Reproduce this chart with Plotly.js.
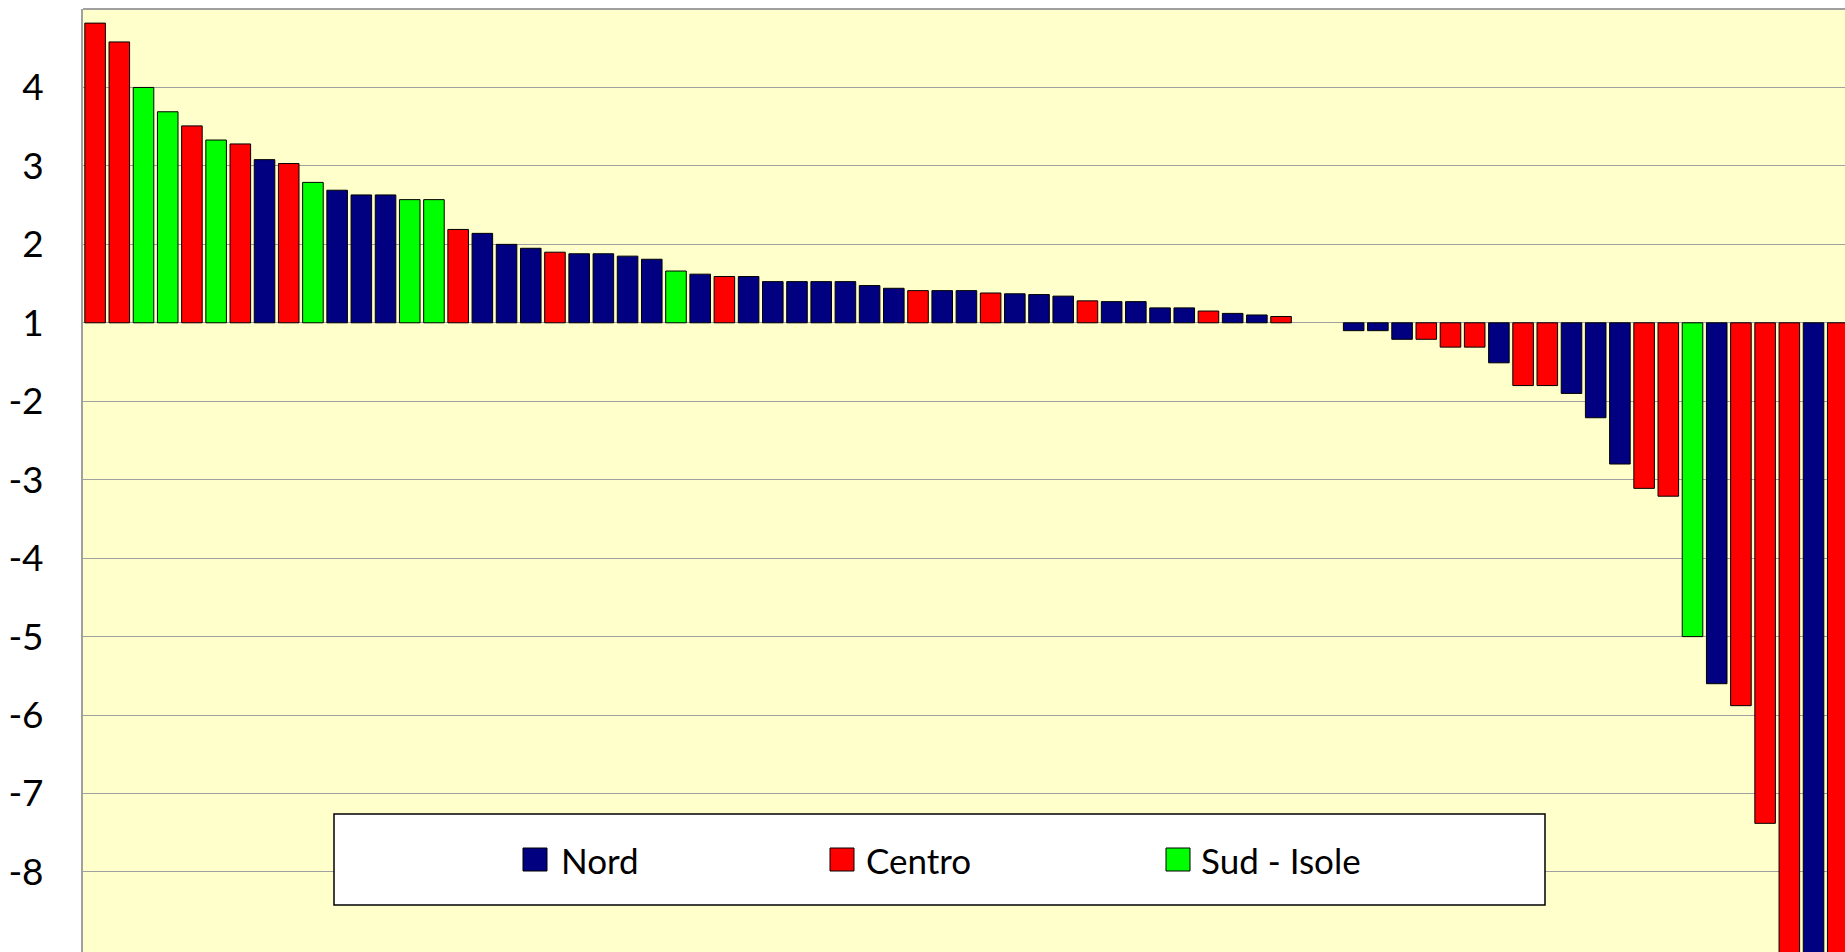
<!DOCTYPE html>
<html>
<head>
<meta charset="utf-8">
<script src="https://cdn.plot.ly/plotly-3.0.1.min.js"></script>
<style>
  html, body { margin: 0; padding: 0; background: #ffffff; overflow: hidden; }
  #chart { width: 1845px; height: 952px; }
</style>
</head>
<body>
<div id="chart"></div>
<script>
// ---- data (bar heights measured from the baseline, in axis steps) ----
const barRegions = [
  'C','C','S','S','C','S','C','N','C','S',
  'N','N','N','S','S','C','N','N','N','C',
  'N','N','N','N','S','N','C','N','N','N',
  'N','N','N','N','C','N','N','C','N','N',
  'N','C','N','N','N','N','C','N','N','C',
  null,null,'N','N','N','C','C','C','N','C',
  'C','N','N','N','C','C','S','N','C','C',
  'C','N','C'
];
const barValues = [
  3.82, 3.58, 3.00, 2.69, 2.51, 2.33, 2.28, 2.08, 2.03, 1.79,
  1.69, 1.63, 1.63, 1.57, 1.57, 1.19, 1.14, 1.00, 0.95, 0.90,
  0.88, 0.88, 0.85, 0.81, 0.66, 0.62, 0.59, 0.59, 0.525, 0.525,
  0.525, 0.525, 0.475, 0.44, 0.41, 0.41, 0.41, 0.38, 0.37, 0.36,
  0.34, 0.28, 0.27, 0.27, 0.19, 0.19, 0.15, 0.12, 0.10, 0.08,
  null, null, -0.10, -0.10, -0.21, -0.21, -0.31, -0.31, -0.51, -0.80,
  -0.80, -0.90, -1.21, -1.80, -2.11, -2.21, -4.00, -4.60, -4.88, -6.38,
  -8.6, -9.2, -10.0
];
const seriesKeys  = ['N', 'C', 'S'];
const seriesNames = ['Nord', 'Centro', 'Sud - Isole'];
const tickPositions = [3, 2, 1, 0, -1, -2, -3, -4, -5, -6, -7];
const tickLabels    = ['4', '3', '2', '1', '-2', '-3', '-4', '-5', '-6', '-7', '-8'];

// ---- styles ----
const seriesColors = { N: '#000080', C: '#FF0000', S: '#00FF00' };
const FONT = 'Lato, "Open Sans", sans-serif';
const W = 1845, H = 952, ML = 83, MT = 9;
const PW = W - ML, PH = H - MT;
const px2x = p => (p - ML) / PW;
const px2y = p => (H - p) / PH;

const traces = seriesKeys.map((k, si) => {
  const xs = [], ys = [];
  barRegions.forEach((r, i) => {
    if (r === k && barValues[i] !== null) { xs.push(i + 1); ys.push(barValues[i]); }
  });
  return {
    type: 'bar', name: seriesNames[si], x: xs, y: ys,
    marker: { color: seriesColors[k], line: { color: '#000000', width: 1 } },
    showlegend: false, hoverinfo: 'y+name'
  };
});

// custom legend (box + squares + labels)
const legendItems = [
  { key: 'N', sq: 523, tx: 559 },
  { key: 'C', sq: 830, tx: 864 },
  { key: 'S', sq: 1166, tx: 1199 }
];
const shapes = [
  { type: 'line', xref: 'paper', yref: 'paper', x0: 0, x1: 1.01, y0: 1, y1: 1,
    line: { color: '#A0A0A0', width: 2 } },
  { type: 'rect', xref: 'paper', yref: 'paper', layer: 'above',
    x0: px2x(334), x1: px2x(1545), y0: px2y(905), y1: px2y(814),
    fillcolor: '#FFFFFF', line: { color: '#000000', width: 1.5 } }
];
const annotations = [];
legendItems.forEach((it, i) => {
  shapes.push({ type: 'rect', xref: 'paper', yref: 'paper', layer: 'above',
    x0: px2x(it.sq), x1: px2x(it.sq + 24), y0: px2y(871), y1: px2y(848),
    fillcolor: seriesColors[it.key], line: { color: '#000000', width: 1 } });
  annotations.push({ xref: 'paper', yref: 'paper', x: px2x(it.tx), y: px2y(860),
    xanchor: 'left', yanchor: 'middle', showarrow: false,
    text: seriesNames[seriesKeys.indexOf(it.key)],
    font: { family: FONT, size: 35, color: '#000000' } });
});

const layout = {
  width: W, height: H,
  margin: { l: ML, r: 0, t: MT, b: 0, pad: 0, autoexpand: false },
  paper_bgcolor: '#FFFFFF', plot_bgcolor: '#FFFFCC',
  barmode: 'overlay', bargap: 0.15,
  showlegend: false,
  xaxis: { range: [0.5, 73.3], showgrid: false, zeroline: false, showline: false,
           showticklabels: false, ticks: '', fixedrange: true },
  yaxis: { range: [-8.02, 4.0], tickmode: 'array', tickvals: tickPositions, ticktext: tickLabels,
           showgrid: true, gridcolor: '#A0A0A0', gridwidth: 1,
           zeroline: true, zerolinecolor: '#A0A0A0', zerolinewidth: 1,
           showline: true, linecolor: '#A0A0A0', linewidth: 2,
           ticks: 'outside', ticklen: 30, tickcolor: 'rgba(0,0,0,0)',
           tickfont: { family: FONT, size: 37, color: '#000000' },
           automargin: false, fixedrange: true },
  shapes: shapes, annotations: annotations
};

Plotly.newPlot('chart', traces, layout, { displayModeBar: false, staticPlot: true });
</script>
</body>
</html>
